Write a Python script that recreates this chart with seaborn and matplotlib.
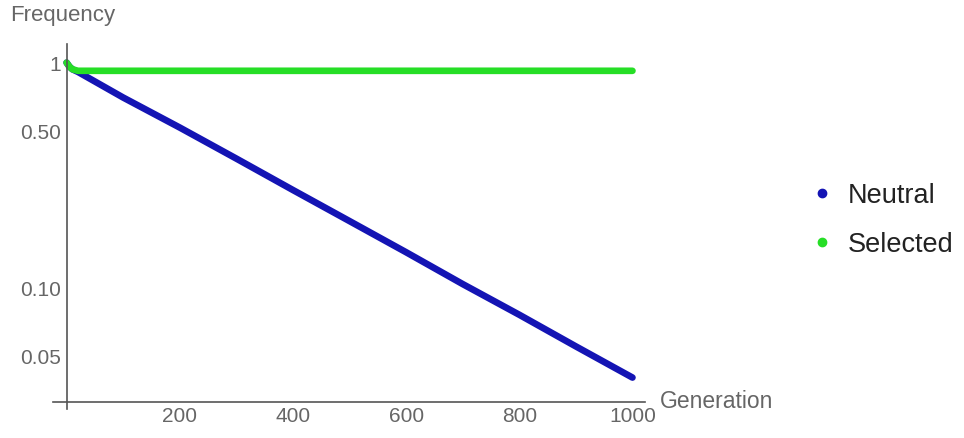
import numpy as np
import pandas as pd
import matplotlib.pyplot as plt
import seaborn as sns
from matplotlib.lines import Line2D
from matplotlib.ticker import FixedLocator, MultipleLocator, FixedFormatter

# Values (log-scale frequency vs generation)
gen_neutral = [0, 5, 10, 20, 100, 200, 300, 400, 500, 600, 700, 800, 900, 1000]
freq_neutral = [1.0, 0.96, 0.935, 0.91, 0.70, 0.515, 0.375, 0.272, 0.198, 0.144, 0.104, 0.076, 0.055, 0.040]

gen_selected = [0, 5, 10, 20, 100, 200, 300, 400, 500, 600, 700, 800, 900, 1000]
freq_selected = [1.0, 0.96, 0.935, 0.92, 0.92, 0.92, 0.92, 0.92, 0.92, 0.92, 0.92, 0.92, 0.92, 0.92]

series_names = ["Neutral", "Selected"]
series_colors = ["#1414b4", "#26de26"]

y_ticks = [0.05, 0.1, 0.5, 1]
y_tick_labels = ["0.05", "0.10", "0.50", "1"]
x_ticks = [200, 400, 600, 800, 1000]

df = pd.concat([
    pd.DataFrame({"Generation": gen_neutral, "Frequency": freq_neutral, "Series": "Neutral"}),
    pd.DataFrame({"Generation": gen_selected, "Frequency": freq_selected, "Series": "Selected"}),
])

sns.set_style("white")
plt.rcParams["font.family"] = ["Liberation Sans", "DejaVu Sans"]

fig = plt.figure(figsize=(9.64, 4.39), dpi=100)
ax = fig.add_axes([0.055, 0.066, 0.614, 0.8315])

sns.lineplot(data=df, x="Generation", y="Frequency", hue="Series",
             hue_order=series_names, palette=series_colors, linewidth=4.8,
             legend=False, ax=ax, solid_capstyle="round")

ax.set_yscale("log")
ax.set_xlim(-24, 1022)
ax.set_ylim(0.029, 1.21)

# Mathematica-style crossing axes
for s in ["top", "right"]:
    ax.spines[s].set_visible(False)
ax.spines["left"].set_position(("data", 0))
ax.spines["bottom"].set_position(("data", 0.0311))
for s in ["left", "bottom"]:
    ax.spines[s].set_color("#555555")
    ax.spines[s].set_linewidth(1.2)

ax.yaxis.set_major_locator(FixedLocator(y_ticks))
ax.yaxis.set_major_formatter(FixedFormatter(y_tick_labels))
ax.yaxis.set_minor_locator(FixedLocator([]))
ax.xaxis.set_major_locator(FixedLocator(x_ticks))
ax.xaxis.set_minor_locator(MultipleLocator(50))

ax.tick_params(axis="both", which="both", direction="in", colors="#555555",
               labelcolor="#666666", labelsize=15)
ax.tick_params(axis="x", which="major", length=5, width=1, pad=3)
ax.tick_params(axis="x", which="minor", length=3, width=0.8)
ax.tick_params(axis="y", which="major", length=4, width=1, pad=4)

ax.set_xlabel("")
ax.set_ylabel("")
fig.text(0.011, 1 - 16 / 439, "Frequency", fontsize=16, color="#666666", va="center", ha="left")
fig.text(0.684, 1 - 402 / 439, "Generation", fontsize=16.5, color="#666666", va="center", ha="left")

handles = [Line2D([], [], marker="o", linestyle="", color=c, markersize=6) for c in series_colors]
fig.legend(handles, series_names, loc="center left", bbox_to_anchor=(0.827, 0.497),
           frameon=False, fontsize=19.5, handletextpad=0.45, labelspacing=0.85,
           handlelength=1.0, borderaxespad=0, labelcolor="#222222")

fig.savefig("out.png", dpi=100)
